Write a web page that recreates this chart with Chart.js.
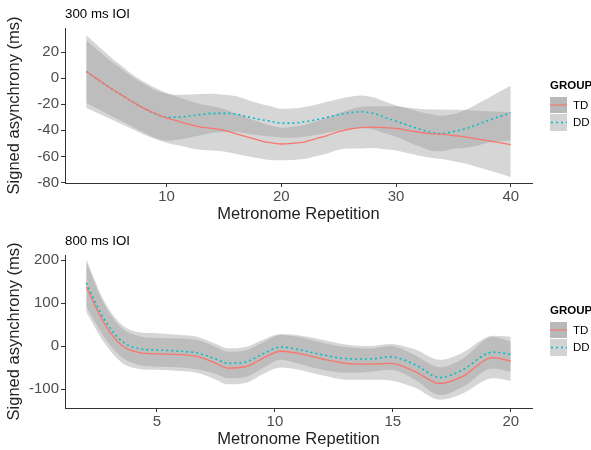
<!DOCTYPE html>
<html>
<head>
<meta charset="utf-8">
<script src="https://cdn.jsdelivr.net/npm/chart.js@4.4.1/dist/chart.umd.min.js"></script>
<style>
  html, body { margin: 0; padding: 0; background: #fff; }
  canvas { display: block; }
</style>
</head>
<body>
<canvas id="chart300" width="591" height="225"></canvas>
<canvas id="chart800" width="591" height="225"></canvas>
<script>
// 300 ms IOI panel
const reps300 = [3, 4, 5, 6, 7, 8, 9, 10, 11, 12, 13, 14, 15, 16, 17, 18, 19, 20, 21, 22,
  23, 24, 25, 26, 27, 28, 29, 30, 31, 32, 33, 34, 35, 36, 37, 38, 39, 40];
const td300 = [5, -1, -7, -12.5, -18, -23, -27, -30.5, -33, -35.5, -37.5, -38.5, -40, -42.5, -45, -47.5, -49.5, -50.5, -50, -49,
  -46.5, -44, -41, -39, -38, -37.5, -38, -38.5, -40, -41.5, -42.5, -43, -44, -45, -46.5, -48, -49.5, -51];
const td300Ci = [28, 26, 24, 22.5, 21, 20.3, 19.6, 19, 18.5, 18, 17.5, 17, 16.3, 15.5, 14.8, 14, 13.3, 12.5, 12.8, 13.1,
  13.4, 13.7, 14, 15, 16, 16, 16.5, 17, 17.5, 18, 18.5, 19, 19.7, 20.5, 21.5, 22.5, 23.7, 25];
const dd300 = [5, -1, -7, -12.5, -18, -23, -27.5, -30, -30, -29, -28, -27, -27, -27.5, -29.5, -31.5, -33, -34.5, -34.5, -33.5,
  -32, -30, -28, -26.5, -25.8, -27, -30, -33, -36, -39, -41.5, -42.5, -41, -39, -36, -32.5, -29.5, -26.8];
const dd300Ci = [24, 22.5, 21, 20, 19, 18.7, 18.3, 18, 17.3, 16.5, 15.8, 15, 14.3, 13.7, 13, 12.3, 11.7, 11, 11.2, 11.4,
  11.6, 11.8, 12, 12.2, 12.5, 12.3, 12.2, 12, 12.7, 13.3, 14, 13.6, 13.2, 14.5, 15.8, 17, 19, 21];
const xTicks300 = [10, 20, 30, 40];
const yTicks300 = [-80, -60, -40, -20, 0, 20];

// 800 ms IOI panel
const reps800 = [2, 2.75, 3.5, 4.25, 5, 6, 6.7, 7.5, 8, 8.75, 9.5, 10.25, 11, 12, 13, 14, 14.9, 15.9, 17, 17.9, 19.25, 20];
const td800 = [138, 54, 2, -15, -18, -20, -24, -40, -51, -48, -28, -12, -17, -30, -40, -42, -40, -58, -87, -72, -27, -35];
const td800Ci = [58, 45, 40, 38, 37, 38, 38, 38, 38, 38, 37, 38, 38, 38, 38, 36, 40, 38, 38, 40, 48, 46];
const dd800 = [147, 64, 12, -6, -9, -12, -16, -30, -40, -37, -18, -2, -8, -20, -29, -30, -25, -42, -73, -57, -14, -19];
const dd800Ci = [55, 42, 38, 38, 39, 38, 38, 35, 35, 35, 33, 30, 33, 35, 33, 30, 30, 35, 41, 40, 38, 41];
const xTicks800 = [5, 10, 15, 20];
const yTicks800 = [-100, 0, 100, 200];

const groups = ['TD', 'DD'];
const FONT = '"Liberation Sans", Arial, Helvetica, sans-serif';
const RED = '#F8766D';
const TEAL = '#00BFC4';
const BAND = 'rgba(153,153,153,0.4)';

function pts(xs, ys, off = null, sign = 1) {
  return xs.map((x, i) => ({ x: x, y: off ? ys[i] + sign * off[i] : ys[i] }));
}

const panelDecor = {
  id: 'panelDecor',
  afterDraw(chart, args, opts) {
    const ctx = chart.ctx;
    ctx.save();
    ctx.fillStyle = '#000';
    ctx.textBaseline = 'alphabetic';
    ctx.font = '13.3px ' + FONT;
    ctx.fillText(opts.label, 65, opts.labelY);

    // legend
    ctx.font = 'bold 11.5px ' + FONT;
    ctx.fillText('GROUP', 550, 89);
    ctx.fillStyle = '#b9b9b9';
    ctx.fillRect(550, 97, 17, 16);
    ctx.fillStyle = '#d3d3d3';
    ctx.fillRect(550, 114, 17, 17);
    ctx.lineWidth = 1.2;
    ctx.strokeStyle = RED;
    ctx.beginPath(); ctx.moveTo(550, 105); ctx.lineTo(567, 105); ctx.stroke();
    ctx.strokeStyle = TEAL;
    ctx.lineWidth = 1.5;
    ctx.setLineDash([2, 3]);
    ctx.beginPath(); ctx.moveTo(551, 122.5); ctx.lineTo(567, 122.5); ctx.stroke();
    ctx.setLineDash([]);
    ctx.fillStyle = '#000';
    ctx.font = '11.5px ' + FONT;
    ctx.textBaseline = 'middle';
    ctx.fillText(groups[0], 573, 105.5);
    ctx.fillText(groups[1], 573, 122.5);
    ctx.restore();
  }
};

function makePanel(id, reps, td, tdCi, dd, ddCi, xTicks, yTicks, xr, yr, topPad, label) {
  const ctx = document.getElementById(id).getContext('2d');
  const lineOpts = { pointRadius: 0, cubicInterpolationMode: 'monotone', fill: false };
  return new Chart(ctx, {
    type: 'line',
    data: {
      datasets: [
        Object.assign({ label: groups[0], data: pts(reps, td), borderColor: RED, borderWidth: 1.3, order: 0 }, lineOpts),
        Object.assign({ label: groups[1], data: pts(reps, dd), borderColor: TEAL, borderWidth: 1.6, borderDash: [2, 3], order: 0 }, lineOpts),
        Object.assign({}, lineOpts, { data: pts(reps, td, tdCi, 1), borderWidth: 0, backgroundColor: BAND, fill: '+1', order: 1 }),
        Object.assign({}, lineOpts, { data: pts(reps, td, tdCi, -1), borderWidth: 0, order: 1 }),
        Object.assign({}, lineOpts, { data: pts(reps, dd, ddCi, 1), borderWidth: 0, backgroundColor: BAND, fill: '+1', order: 1 }),
        Object.assign({}, lineOpts, { data: pts(reps, dd, ddCi, -1), borderWidth: 0, order: 1 })
      ]
    },
    options: {
      responsive: false,
      animation: false,
      devicePixelRatio: 1,
      layout: { padding: { left: 0, right: 59, top: topPad, bottom: 0 } },
      plugins: {
        legend: { display: false },
        tooltip: { enabled: false },
        panelDecor: { label: label, labelY: topPad - 10 }
      },
      scales: {
        x: {
          type: 'linear',
          min: xr[0], max: xr[1],
          afterBuildTicks: axis => { axis.ticks = xTicks.map(v => ({ value: v })); },
          afterFit: axis => { axis.height = 42; },
          grid: { drawOnChartArea: false, drawTicks: true, tickLength: 4, color: '#333' },
          border: { display: true, color: '#333', width: 1 },
          ticks: { color: '#4d4d4d', font: { family: FONT, size: 15 }, padding: 1, maxRotation: 0 },
          title: { display: true, text: 'Metronome Repetition', color: '#222', font: { family: FONT, size: 16.5 }, padding: { top: 0, bottom: 1 } }
        },
        y: {
          type: 'linear',
          min: yr[0], max: yr[1],
          afterBuildTicks: axis => { axis.ticks = yTicks.map(v => ({ value: v })); },
          afterFit: axis => { axis.width = 65; },
          grid: { drawOnChartArea: false, drawTicks: true, tickLength: 4, color: '#333' },
          border: { display: true, color: '#333', width: 1 },
          ticks: { color: '#4d4d4d', font: { family: FONT, size: 15 }, padding: 2 },
          title: { display: true, text: 'Signed asynchrony (ms)', color: '#222', font: { family: FONT, size: 16.5 }, padding: { top: 5, bottom: 0 } }
        }
      }
    },
    plugins: [panelDecor]
  });
}

makePanel('chart300', reps300, td300, td300Ci, dd300, dd300Ci, xTicks300, yTicks300, [1.15, 41.85], [-80.4, 38.4], 28, '300 ms IOI');
makePanel('chart800', reps800, td800, td800Ci, dd800, dd800Ci, xTicks800, yTicks800, [1.1, 20.9], [-144, 212], 30, '800 ms IOI');
</script>
</body>
</html>
